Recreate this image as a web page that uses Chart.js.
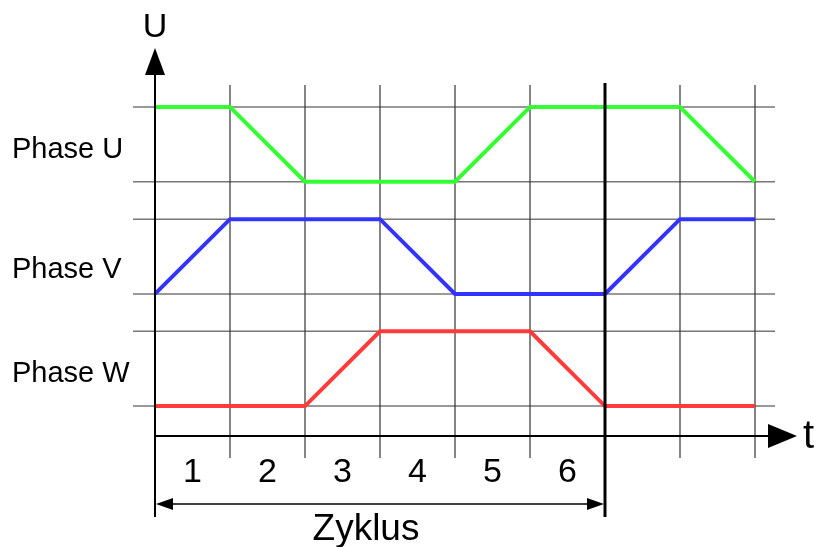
<!DOCTYPE html>
<html>
<head>
<meta charset="utf-8">
<script src="https://cdn.jsdelivr.net/npm/chart.js@4.4.1/dist/chart.umd.min.js"></script>
<style>
  html, body { margin: 0; padding: 0; background: #fff; }
  #wrap { width: 817px; height: 547px; }
</style>
</head>
<body>
<div id="wrap"><canvas id="phaseChart" width="817" height="547"></canvas></div>
<script>
// time steps (grid columns) and switching levels of the three phases
const timeSteps = [0, 1, 2, 3, 4, 5, 6, 7, 8];
const phaseU = [8, 8, 6, 6, 6, 8, 8, 8, 6];
const phaseV = [3, 5, 5, 5, 3, 3, 3, 5, 5];
const phaseW = [0, 0, 0, 2, 2, 2, 0, 0, 0];

// horizontal reference lines (high / low of each phase)
const gridLevels = [0, 2, 3, 5, 6, 8];
const phaseNames = ['Phase U', 'Phase V', 'Phase W'];
const phaseLabelLevels = [6.84, 3.64, 0.86];
const stepLabels = ['1', '2', '3', '4', '5', '6'];
const cycleEnd = 6;
const cycleLabel = 'Zyklus';

const FONT = '"Liberation Sans", Arial, sans-serif';

function toPoints(values) {
    return timeSteps.map((t, i) => ({ x: t, y: values[i] }));
}

function arrowHead(ctx, tipX, tipY, dirX, dirY, len, half) {
    // dir is a unit vector pointing toward the tip
    const bx = tipX - dirX * len, by = tipY - dirY * len;
    ctx.beginPath();
    ctx.moveTo(tipX, tipY);
    ctx.lineTo(bx - dirY * half, by + dirX * half);
    ctx.lineTo(bx + dirY * half, by - dirX * half);
    ctx.closePath();
    ctx.fill();
}

// thin grid drawn under the curves, axes and texts on top
const gridPlugin = {
    id: 'phaseGrid',
    beforeDatasetsDraw(chart) {
        const ctx = chart.ctx;
        const xs = chart.scales.x, ys = chart.scales.y;
        const axisY = ys.getPixelForValue(-0.8);
        ctx.save();
        ctx.strokeStyle = '#777';
        ctx.lineWidth = 1.5;
        gridLevels.forEach(v => {
            const py = ys.getPixelForValue(v);
            ctx.beginPath();
            ctx.moveTo(xs.getPixelForValue(0) - 22, py);
            ctx.lineTo(xs.getPixelForValue(8) + 20, py);
            ctx.stroke();
        });
        ctx.strokeStyle = '#333';
        ctx.lineWidth = 1.2;
        timeSteps.forEach(t => {
            if (t === 0 || t === cycleEnd) return;
            const px = xs.getPixelForValue(t);
            ctx.beginPath();
            ctx.moveTo(px, ys.getPixelForValue(8) - 22);
            ctx.lineTo(px, axisY + 22);
            ctx.stroke();
        });
        ctx.restore();
    },
    afterDatasetsDraw(chart) {
        const ctx = chart.ctx;
        const xs = chart.scales.x, ys = chart.scales.y;
        const x0 = xs.getPixelForValue(0);
        const xEnd = xs.getPixelForValue(cycleEnd);
        const axisY = ys.getPixelForValue(-0.8);
        const topY = ys.getPixelForValue(8);
        ctx.save();
        ctx.strokeStyle = '#000';
        ctx.fillStyle = '#000';

        // y axis with arrow
        ctx.lineWidth = 2;
        ctx.beginPath();
        ctx.moveTo(x0, topY - 35);
        ctx.lineTo(x0, axisY + 81);
        ctx.stroke();
        arrowHead(ctx, x0, topY - 59, 0, -1, 27, 10);

        // x axis with arrow
        ctx.beginPath();
        ctx.moveTo(x0, axisY);
        ctx.lineTo(xs.getPixelForValue(8) + 15, axisY);
        ctx.stroke();
        arrowHead(ctx, xs.getPixelForValue(8) + 42, axisY, 1, 0, 29, 12);

        // end of cycle marker
        ctx.lineWidth = 3;
        ctx.beginPath();
        ctx.moveTo(xEnd, topY - 24);
        ctx.lineTo(xEnd, axisY + 81);
        ctx.stroke();

        // cycle dimension arrow
        const dimY = axisY + 68;
        ctx.lineWidth = 1.3;
        ctx.beginPath();
        ctx.moveTo(x0 + 4, dimY);
        ctx.lineTo(xEnd - 4, dimY);
        ctx.stroke();
        arrowHead(ctx, x0 + 1, dimY, -1, 0, 17, 6);
        arrowHead(ctx, xEnd - 1, dimY, 1, 0, 17, 6);

        // texts
        ctx.textAlign = 'center';
        ctx.textBaseline = 'alphabetic';
        ctx.font = '34px ' + FONT;
        stepLabels.forEach((s, i) => {
            ctx.fillText(s, xs.getPixelForValue(i + 0.5), axisY + 46);
        });
        ctx.font = '37px ' + FONT;
        ctx.fillText(cycleLabel, (x0 + xEnd) / 2 - 14, axisY + 104);
        ctx.font = '34px ' + FONT;
        ctx.fillText('U', x0, topY - 70);
        ctx.textAlign = 'left';
        ctx.font = '40px ' + FONT;
        ctx.fillText('t', xs.getPixelForValue(8) + 48, axisY + 12);

        ctx.font = '29px ' + FONT;
        ctx.textBaseline = 'middle';
        phaseNames.forEach((name, i) => {
            ctx.fillText(name, 12, ys.getPixelForValue(phaseLabelLevels[i]));
        });
        ctx.restore();
    }
};

const lineStyle = {
    fill: false,
    tension: 0,
    borderWidth: 4,
    pointRadius: 0,
    borderJoinStyle: 'miter',
    clip: false
};

new Chart(document.getElementById('phaseChart').getContext('2d'), {
    type: 'line',
    data: {
        datasets: [
            Object.assign({ label: 'Phase U', data: toPoints(phaseU), borderColor: '#33ff33' }, lineStyle),
            Object.assign({ label: 'Phase V', data: toPoints(phaseV), borderColor: '#3333ff' }, lineStyle),
            Object.assign({ label: 'Phase W', data: toPoints(phaseW), borderColor: '#ff3b3b' }, lineStyle)
        ]
    },
    options: {
        responsive: false,
        animation: false,
        layout: { padding: { left: 155, right: 62, top: 107, bottom: 111 } },
        plugins: {
            legend: { display: false },
            tooltip: { enabled: false }
        },
        scales: {
            x: { type: 'linear', min: 0, max: 8, display: false },
            y: { type: 'linear', min: -0.8, max: 8, display: false }
        }
    },
    plugins: [gridPlugin]
});
</script>
</body>
</html>
